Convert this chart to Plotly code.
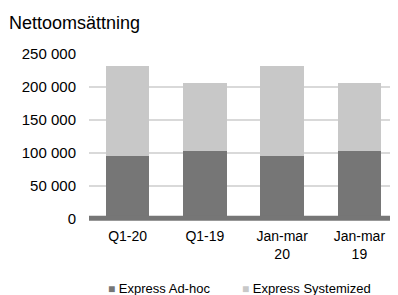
import plotly.graph_objects as go

categories = ["Q1-20", "Q1-19", "Jan-mar<br>20", "Jan-mar<br>19"]
adhoc = [95000, 102000, 95000, 102000]
systemized = [136700, 103300, 136700, 103300]
tick_vals = [0, 50000, 100000, 150000, 200000, 250000]
tick_text = ["0", "50 000", "100 000", "150 000", "200 000", "250 000"]
series_names = ["Express Ad-hoc", "Express Systemized"]

DARK = "#767676"
LIGHT = "#c8c8c8"
FONT = "Liberation Sans, Arial, sans-serif"

# page body has an 8px margin; the figure is sized to fill the rest of the window
W, H = 390, 287

fig = go.Figure()
fig.add_trace(go.Bar(x=categories, y=adhoc, name=series_names[0], marker_color=DARK, marker_line_width=0))
fig.add_trace(go.Bar(x=categories, y=systemized, name=series_names[1], marker_color=LIGHT, marker_line_width=0))

fig.add_shape(type="line", xref="paper", yref="y", x0=0, x1=1, y0=0, y1=0,
              line=dict(color=DARK, width=5), layer="above")

# legend drawn as text entries below the plot
for xpos, name, col in [(0.055, series_names[0], DARK), (0.49, series_names[1], LIGHT)]:
    fig.add_annotation(
        xref="paper", yref="paper", x=xpos, y=-0.405, xanchor="left", yanchor="middle",
        text=f"<span style='color:{col};font-size:12px'>■</span> {name}",
        showarrow=False, font=dict(size=13, color="#000000", family=FONT),
    )

fig.update_layout(
    width=W, height=H,
    barmode="stack", bargap=0.437,
    paper_bgcolor="white", plot_bgcolor="white",
    font=dict(family=FONT, color="#000000", size=14),
    margin=dict(l=81, r=0, t=46, b=74, autoexpand=False),
    title=dict(text="Nettoomsättning", x=0, xref="container", xanchor="left",
               y=1 - 15 / H, yref="container", yanchor="middle",
               font=dict(size=18, color="#000000"), pad=dict(l=1)),
    showlegend=False,
    xaxis=dict(showgrid=False, showline=False, ticks="", tickfont=dict(size=14),
               automargin=False, ticklabelstandoff=5),
    yaxis=dict(range=[-4000, 250000], tickvals=tick_vals, ticktext=tick_text,
               showgrid=True, gridcolor="#d9d9d9", gridwidth=1.5, zeroline=False,
               ticks="", ticklabelstandoff=12, tickfont=dict(size=15), automargin=False),
)

fig.write_html("out.html")
